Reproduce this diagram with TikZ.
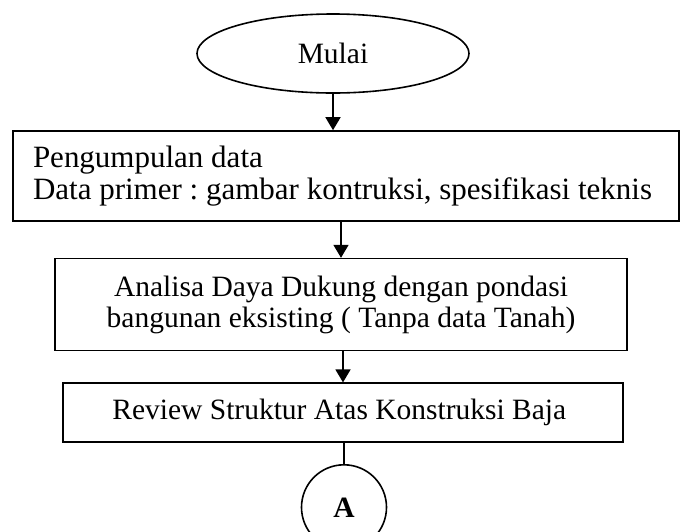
\documentclass[tikz,border=0pt]{standalone}
\usepackage{fontspec}
\setmainfont{Liberation Serif}
\usetikzlibrary{shapes.geometric, arrows.meta, positioning}

\begin{document}
\begin{tikzpicture}[
    x=1pt, y=-1pt,
    font=\fontsize{29.5}{31}\selectfont\frenchspacing,
    line width=1.6pt,
    terminal/.style={
        draw=black,
        ellipse,
        minimum width=272pt,
        minimum height=79pt,
        inner sep=0pt
    },
    process/.style={
        draw=black,
        rectangle,
        align=center,
        inner sep=0pt
    },
    connector/.style={
        draw=black,
        circle,
        minimum size=85pt,
        inner sep=0pt,
        font=\fontsize{29.5}{31}\selectfont\bfseries
    },
    flow arrow/.style={
        -{Triangle[length=13pt, width=15pt]},
        line width=1.6pt
    }
]
    \useasboundingbox (0,0) rectangle (686,531);
    \clip (0,0) rectangle (686,531);

    % Start
    \node[terminal] (mulai) at (333,53.5) {Mulai};

    % Data collection
    \node[process, minimum width=666pt, minimum height=90pt,
          text width=626pt, align=flush left,
          font=\fontsize{31}{32}\selectfont\frenchspacing] (pengumpulan) at (346,176) {
        Pengumpulan data\\
        Data primer : gambar kontruksi, spesifikasi teknis
    };

    % Bearing capacity analysis
    \node[process, minimum width=572pt, minimum height=92pt,
          below=36pt of pengumpulan, xshift=-5pt] (analisa) {
        Analisa Daya Dukung dengan pondasi\\
        bangunan eksisting ( Tanpa data Tanah)
    };

    % Steel structure review
    \node[process, minimum width=560pt, minimum height=59pt,
          below=31pt of analisa, xshift=2pt] (review) {
        Review Struktur Atas Konstruksi Baja
    };

    % Off-page connector
    \node[connector, below=21pt of review, xshift=1pt] (konektorA) {A};

    % Flow
    \draw[flow arrow] (mulai.south) -- (mulai.south |- pengumpulan.north);
    \draw[flow arrow] (pengumpulan.south -| analisa.north) -- (analisa.north);
    \draw[flow arrow] (analisa.south -| review.north) -- (review.north);
    \draw (review.south -| konektorA.north) -- (konektorA.north);

\end{tikzpicture}
\end{document}
